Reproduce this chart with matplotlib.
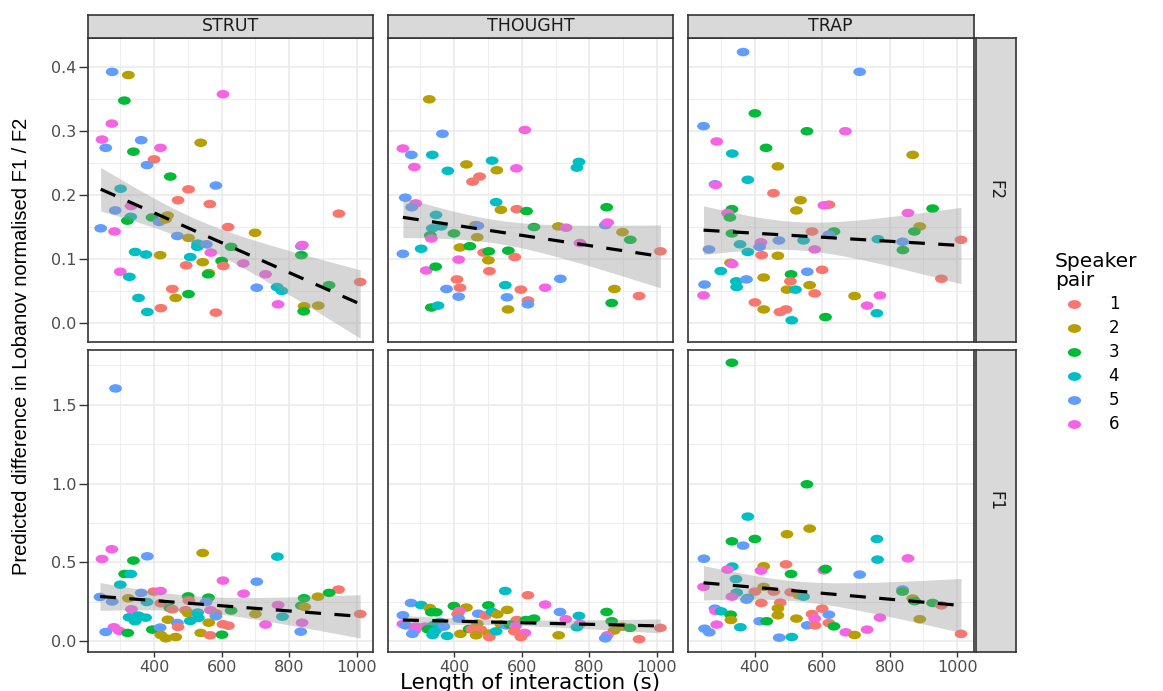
import numpy as np
import matplotlib
matplotlib.use('Agg')
import matplotlib.pyplot as plt
from matplotlib.path import Path
from matplotlib.lines import Line2D

# colours of ggplot's default hue scale, speaker pairs 1-6
PAIR_COLOURS = ['#F8766D', '#B79F00', '#00BA38', '#00BFC4', '#619CFF', '#F564E3']
PAIR_LABELS = ['1', '2', '3', '4', '5', '6']
VOWELS = ['STRUT', 'THOUGHT', 'TRAP']
FORMANTS = ['F2', 'F1']

# ---- F2, one set of lists per vowel: length (s), predicted difference, speaker pair
strut_f2_len = [276, 324, 312, 604, 275, 246, 257, 362, 419, 538, 339, 400, 379, 448, 301, 502, 583, 471, 565, 285,
                332, 331, 321, 394, 440, 415, 434, 242, 283, 619, 699, 947, 469, 502, 529, 528, 555, 628, 568, 344,
                376, 418, 507, 544, 600, 495, 605, 664, 562, 560, 836, 839, 836, 300, 327, 730, 704, 764, 778, 918,
                1010, 454, 502, 464, 354, 380, 420, 583, 767, 844, 886, 843]
strut_f2_diff = [0.393, 0.388, 0.348, 0.358, 0.312, 0.287, 0.274, 0.286, 0.274, 0.282, 0.268, 0.256, 0.247, 0.229,
                 0.210, 0.209, 0.215, 0.192, 0.186, 0.176, 0.183, 0.166, 0.160, 0.165, 0.168, 0.158, 0.162, 0.148,
                 0.143, 0.150, 0.141, 0.171, 0.136, 0.133, 0.124, 0.119, 0.123, 0.119, 0.110, 0.111, 0.107, 0.106,
                 0.103, 0.095, 0.097, 0.090, 0.089, 0.093, 0.078, 0.076, 0.120, 0.122, 0.106, 0.080, 0.072, 0.076,
                 0.055, 0.056, 0.050, 0.059, 0.064, 0.053, 0.045, 0.039, 0.039, 0.017, 0.023, 0.016, 0.029, 0.026,
                 0.027, 0.018]
strut_f2_pair = [5, 2, 3, 6, 6, 6, 5, 5, 6, 2, 3, 1, 5, 3, 4, 1, 5, 1, 1, 5, 6, 4, 3, 3, 2, 5, 2, 5, 6, 1, 2, 1, 5, 2,
                 4, 4, 5, 3, 6, 4, 4, 2, 4, 2, 3, 1, 1, 6, 2, 3, 5, 6, 3, 6, 4, 6, 5, 4, 4, 3, 1, 1, 3, 2, 4, 4, 1, 1,
                 6, 2, 2, 3]

thought_f2_len = [326, 609, 365, 248, 273, 335, 282, 381, 436, 512, 526, 584, 475, 454, 769, 763, 255, 286, 274, 524,
                  538, 585, 614, 851, 346, 335, 361, 329, 332, 399, 463, 470, 468, 636, 708, 731, 847, 854, 898, 921,
                  772, 248, 302, 417, 446, 413, 487, 502, 560, 501, 579, 1010, 317, 345, 504, 408, 714, 377, 417, 551,
                  597, 669, 874, 413, 556, 618, 618, 947, 332, 352, 559, 866]
thought_f2_diff = [0.350, 0.302, 0.296, 0.273, 0.263, 0.263, 0.244, 0.238, 0.248, 0.254, 0.239, 0.242, 0.229, 0.221,
                   0.252, 0.243, 0.196, 0.187, 0.181, 0.189, 0.177, 0.178, 0.175, 0.181, 0.169, 0.148, 0.151, 0.137,
                   0.132, 0.140, 0.153, 0.152, 0.134, 0.150, 0.151, 0.149, 0.153, 0.157, 0.142, 0.130, 0.125, 0.108,
                   0.116, 0.118, 0.120, 0.099, 0.110, 0.112, 0.113, 0.098, 0.103, 0.112, 0.082, 0.088, 0.081, 0.068,
                   0.069, 0.053, 0.055, 0.059, 0.052, 0.055, 0.053, 0.041, 0.040, 0.035, 0.029, 0.042, 0.024, 0.027,
                   0.021, 0.031]
thought_f2_pair = [2, 6, 5, 6, 5, 4, 6, 4, 2, 4, 2, 6, 1, 1, 4, 4, 5, 6, 5, 4, 2, 1, 3, 3, 4, 4, 4, 3, 6, 3, 2, 5, 2, 3,
                   2, 6, 5, 6, 2, 3, 6, 5, 4, 2, 3, 6, 1, 3, 3, 2, 1, 1, 6, 3, 1, 1, 5, 5, 1, 4, 1, 6, 2, 5, 5, 1, 5,
                   1, 3, 4, 2, 3]

trap_f2_len = [366, 711, 401, 249, 555, 669, 288, 434, 334, 868, 469, 283, 285, 380, 456, 536, 524, 620, 605, 333,
               320, 327, 854, 927, 333, 570, 635, 620, 889, 873, 357, 419, 472, 545, 765, 838, 1011, 265, 380, 415,
               421, 469, 578, 839, 329, 334, 300, 427, 508, 556, 600, 953, 252, 346, 376, 347, 506, 563, 496, 521,
               578, 249, 696, 771, 401, 427, 475, 493, 733, 762, 510, 610]
trap_f2_diff = [0.424, 0.393, 0.328, 0.308, 0.300, 0.300, 0.284, 0.274, 0.265, 0.263, 0.245, 0.217, 0.216, 0.224,
                0.203, 0.192, 0.176, 0.185, 0.184, 0.178, 0.172, 0.165, 0.172, 0.179, 0.140, 0.143, 0.143, 0.138,
                0.151, 0.143, 0.123, 0.126, 0.129, 0.129, 0.131, 0.127, 0.130, 0.115, 0.111, 0.119, 0.106, 0.105,
                0.115, 0.114, 0.094, 0.092, 0.081, 0.071, 0.076, 0.080, 0.083, 0.069, 0.060, 0.065, 0.068, 0.056,
                0.065, 0.059, 0.052, 0.052, 0.046, 0.043, 0.042, 0.043, 0.032, 0.021, 0.017, 0.021, 0.027, 0.015,
                0.004, 0.009]
trap_f2_pair = [5, 5, 3, 5, 3, 6, 6, 3, 4, 2, 2, 5, 6, 4, 1, 2, 2, 1, 6, 3, 6, 3, 6, 3, 3, 1, 3, 5, 2, 3, 4, 6, 5, 4, 4,
                5, 1, 5, 4, 5, 1, 2, 6, 3, 2, 6, 4, 2, 3, 5, 1, 1, 5, 4, 5, 4, 1, 2, 2, 4, 1, 6, 2, 6, 1, 2, 1, 1, 6,
                4, 4, 3]

# ---- F1
strut_f1_len = [275, 246, 339, 380, 544, 765, 313, 331, 300, 604, 704, 240, 276, 324, 362, 399, 419, 379, 420, 501,
                561, 665, 503, 554, 946, 918, 885, 844, 836, 846, 767, 333, 447, 454, 493, 501, 529, 567, 583, 583,
                628, 700, 780, 1010, 326, 353, 344, 375, 441, 469, 471, 507, 531, 562, 604, 620, 730, 838, 281, 297,
                257, 322, 395, 418, 420, 435, 464, 538, 566, 601, 834, 286]
strut_f1_diff = [0.584, 0.522, 0.512, 0.539, 0.560, 0.537, 0.427, 0.427, 0.359, 0.385, 0.378, 0.281, 0.252, 0.273,
                 0.307, 0.315, 0.319, 0.249, 0.241, 0.285, 0.277, 0.302, 0.258, 0.249, 0.328, 0.307, 0.283, 0.273,
                 0.226, 0.218, 0.230, 0.203, 0.211, 0.203, 0.197, 0.178, 0.182, 0.197, 0.178, 0.159, 0.195, 0.173,
                 0.156, 0.173, 0.152, 0.163, 0.127, 0.150, 0.137, 0.116, 0.091, 0.129, 0.148, 0.118, 0.108, 0.099,
                 0.106, 0.118, 0.089, 0.066, 0.059, 0.053, 0.074, 0.087, 0.040, 0.019, 0.027, 0.053, 0.038, 0.042,
                 0.061, 1.604]
strut_f1_pair = [6, 6, 3, 5, 2, 4, 3, 4, 4, 6, 5, 5, 5, 2, 5, 1, 6, 4, 1, 3, 3, 6, 1, 5, 1, 3, 2, 3, 3, 2, 6, 6, 3, 1,
                 1, 2, 4, 6, 1, 5, 3, 2, 4, 1, 4, 4, 4, 4, 2, 5, 1, 4, 4, 2, 1, 1, 6, 6, 6, 6, 5, 3, 3, 5, 2, 2, 2, 2,
                 1, 3, 5, 5]

thought_f1_len = [551, 618, 669, 272, 302, 327, 332, 347, 399, 436, 501, 557, 415, 410, 471, 492, 512, 527, 248, 713,
                  769, 851, 413, 585, 612, 636, 730, 866, 248, 256, 286, 313, 340, 358, 349, 369, 468, 538, 554, 565,
                  581, 772, 763, 898, 920, 1010, 322, 283, 342, 336, 276, 379, 418, 444, 452, 478, 465, 502, 504, 524,
                  578, 609, 597, 709, 873, 853, 847, 947]
thought_f1_diff = [0.319, 0.292, 0.233, 0.243, 0.230, 0.211, 0.184, 0.184, 0.224, 0.214, 0.228, 0.199, 0.192, 0.173,
                   0.175, 0.163, 0.186, 0.171, 0.165, 0.186, 0.161, 0.186, 0.144, 0.135, 0.135, 0.144, 0.140, 0.127,
                   0.110, 0.101, 0.093, 0.093, 0.104, 0.123, 0.080, 0.093, 0.112, 0.108, 0.101, 0.106, 0.097, 0.110,
                   0.089, 0.093, 0.085, 0.085, 0.076, 0.070, 0.063, 0.040, 0.047, 0.034, 0.047, 0.078, 0.076, 0.074,
                   0.038, 0.049, 0.027, 0.063, 0.063, 0.053, 0.027, 0.038, 0.068, 0.038, 0.019, 0.013]
thought_f1_pair = [4, 1, 6, 5, 4, 2, 3, 3, 3, 2, 3, 2, 6, 1, 5, 1, 4, 2, 5, 5, 4, 3, 5, 1, 3, 3, 6, 3, 6, 5, 6, 6, 4, 4,
                   4, 5, 2, 2, 5, 3, 6, 6, 4, 2, 3, 1, 3, 6, 4, 4, 5, 4, 2, 3, 1, 1, 2, 2, 1, 4, 1, 6, 1, 2, 2, 6, 5, 1]

trap_f1_len = [380, 563, 496, 333, 401, 366, 762, 250, 764, 854, 334, 320, 427, 419, 493, 508, 605, 610, 711, 345,
               249, 427, 457, 401, 347, 333, 380, 376, 507, 531, 545, 838, 838, 868, 874, 927, 953, 420, 476, 283,
               285, 301, 329, 330, 469, 469, 415, 436, 524, 570, 600, 578, 620, 556, 579, 620, 635, 771, 889, 252,
               266, 288, 358, 473, 510, 670, 696, 733, 1011, 333, 555]
trap_f1_diff = [0.791, 0.715, 0.679, 0.634, 0.649, 0.607, 0.649, 0.524, 0.518, 0.526, 0.474, 0.455, 0.476, 0.448,
                0.488, 0.427, 0.450, 0.459, 0.423, 0.395, 0.345, 0.345, 0.315, 0.315, 0.309, 0.283, 0.275, 0.264,
                0.311, 0.292, 0.283, 0.328, 0.315, 0.271, 0.254, 0.243, 0.228, 0.243, 0.245, 0.207, 0.192, 0.190,
                0.169, 0.135, 0.209, 0.165, 0.127, 0.127, 0.144, 0.173, 0.207, 0.144, 0.169, 0.101, 0.101, 0.116,
                0.095, 0.150, 0.140, 0.080, 0.057, 0.106, 0.089, 0.023, 0.027, 0.057, 0.040, 0.074, 0.047, 1.767,
                0.996]
trap_f1_pair = [4, 2, 2, 3, 3, 5, 4, 5, 4, 6, 4, 6, 2, 6, 1, 3, 6, 3, 5, 4, 6, 2, 1, 1, 4, 6, 4, 5, 1, 2, 4, 5, 3, 2, 3,
                3, 1, 1, 1, 5, 6, 4, 3, 2, 2, 2, 5, 3, 2, 1, 1, 6, 5, 5, 1, 1, 3, 6, 2, 5, 5, 6, 4, 5, 4, 6, 2, 6, 1,
                3, 3]

panelData = [
    [(strut_f2_len, strut_f2_diff, strut_f2_pair),
     (thought_f2_len, thought_f2_diff, thought_f2_pair),
     (trap_f2_len, trap_f2_diff, trap_f2_pair)],
    [(strut_f1_len, strut_f1_diff, strut_f1_pair),
     (thought_f1_len, thought_f1_diff, thought_f1_pair),
     (trap_f1_len, trap_f1_diff, trap_f1_pair)],
]

W, H = 1163, 691
GRID = '#EBEBEB'
DARK = '#333333'

# slightly flattened dots, as in the (horizontally stretched) original
circ = Path.unit_circle()
dot = Path(circ.vertices * [1.5, 1.0], circ.codes)


def pxRect(left, top, right, bottom):
    return [left / W, 1 - bottom / H, (right - left) / W, (bottom - top) / H]


def addFit(ax, x, y):
    # lm fit with 95% confidence band, like geom_smooth(method = "lm")
    x = np.asarray(x, float)
    y = np.asarray(y, float)
    n = len(x)
    slope, icpt = np.polyfit(x, y, 1)
    s = np.sqrt(np.sum((y - icpt - slope * x) ** 2) / (n - 2))
    xs = np.linspace(x.min(), x.max(), 80)
    sxx = np.sum((x - x.mean()) ** 2)
    se = s * np.sqrt(1.0 / n + (xs - x.mean()) ** 2 / sxx)
    fit = icpt + slope * xs
    ax.fill_between(xs, fit - 1.994 * se, fit + 1.994 * se, color='#999999', alpha=0.4, lw=0, zorder=3)
    ax.plot(xs, fit, color='black', lw=2.3, dashes=(5, 4.2), zorder=4)


def stripAxes(rect):
    st = fig.add_axes(rect)
    st.set_facecolor('#D9D9D9')
    st.set_xticks([])
    st.set_yticks([])
    for sp in st.spines.values():
        sp.set_color(DARK)
        sp.set_linewidth(1.2)
    return st


fig = plt.figure(figsize=(W / 100, H / 100), dpi=100)

colLeft = [87.5, 387.7, 688.0]
colWidth = 285.5
rowTop = [38.0, 349.5]
rowBottom = [342.0, 652.0]
yLims = [(-0.030, 0.446), (-0.068, 1.851)]
yMajor = [[0.0, 0.1, 0.2, 0.3, 0.4], [0.0, 0.5, 1.0, 1.5]]
yMinor = [[0.05, 0.15, 0.25, 0.35], [0.25, 0.75, 1.25, 1.75]]

firstAx = None
for row in range(2):
    rowAx = None
    for col in range(3):
        rect = pxRect(colLeft[col], rowTop[row], colLeft[col] + colWidth, rowBottom[row])
        ax = fig.add_axes(rect, sharex=firstAx, sharey=rowAx)
        if firstAx is None:
            firstAx = ax
        if rowAx is None:
            rowAx = ax
        x, y, pair = panelData[row][col]
        cols = [PAIR_COLOURS[p - 1] for p in pair]
        ax.scatter(x, y, c=cols, s=85, marker=dot, linewidths=0, zorder=2)
        addFit(ax, x, y)

        ax.set_xlim(203, 1048)
        ax.set_ylim(*yLims[row])
        ax.set_xticks([400, 600, 800, 1000])
        ax.set_xticks([300, 500, 700, 900], minor=True)
        ax.set_yticks(yMajor[row])
        ax.set_yticks(yMinor[row], minor=True)
        ax.set_yticklabels(['{:.1f}'.format(v) for v in yMajor[row]])
        ax.grid(which='major', color=GRID, lw=1.2)
        ax.grid(which='minor', color=GRID, lw=0.6)
        ax.set_axisbelow(True)
        for sp in ax.spines.values():
            sp.set_color(DARK)
            sp.set_linewidth(1.2)
        ax.tick_params(which='minor', length=0)
        ax.tick_params(axis='y', which='major', length=6.5, width=1, color=DARK, pad=1.5,
                       labelsize=11.5, labelcolor='#4D4D4D', left=(col == 0), labelleft=(col == 0))
        ax.tick_params(axis='x', which='major', length=3.5, width=1, color=DARK, pad=2,
                       labelsize=11.5, labelcolor='#4D4D4D', bottom=(row == 1), labelbottom=(row == 1))

        # vowel strips along the top
        if row == 0:
            st = stripAxes(pxRect(colLeft[col], 14.7, colLeft[col] + colWidth, 38.0))
            st.text(0.5, 0.5, VOWELS[col], ha='center', va='center', fontsize=12.5, color='#1A1A1A',
                    transform=st.transAxes)

    # formant strips on the right
    st = stripAxes(pxRect(975.5, rowTop[row], 1015.5, rowBottom[row]))
    st.text(0.5, 0.5, FORMANTS[row], ha='center', va='center', rotation=-90, fontsize=12,
            color='#1A1A1A', transform=st.transAxes)

fig.text(530 / W, 1 - 683 / H, 'Length of interaction (s)', ha='center', va='center', fontsize=15.5)
fig.text(22 / W, 1 - 346 / H, 'Predicted difference in Lobanov normalised F1 / F2', ha='center',
         va='center', rotation=90, fontsize=14.5, family=['Liberation Sans', 'DejaVu Sans'])

fig.text(1055 / W, 1 - 271 / H, 'Speaker\npair', ha='left', va='center', fontsize=14.5, linespacing=1.0)
handles = [Line2D([], [], ls='none', marker=dot, markersize=9.5, markerfacecolor=c, markeredgewidth=0)
           for c in PAIR_COLOURS]
leg = fig.legend(handles, PAIR_LABELS, loc='upper left', bbox_to_anchor=(1052 / W, 1 - 287 / H),
                 frameon=False, fontsize=12, labelspacing=0.36, handletextpad=1.3, handlelength=1.6,
                 borderpad=0.0)

fig.savefig('out.png', dpi=100)
